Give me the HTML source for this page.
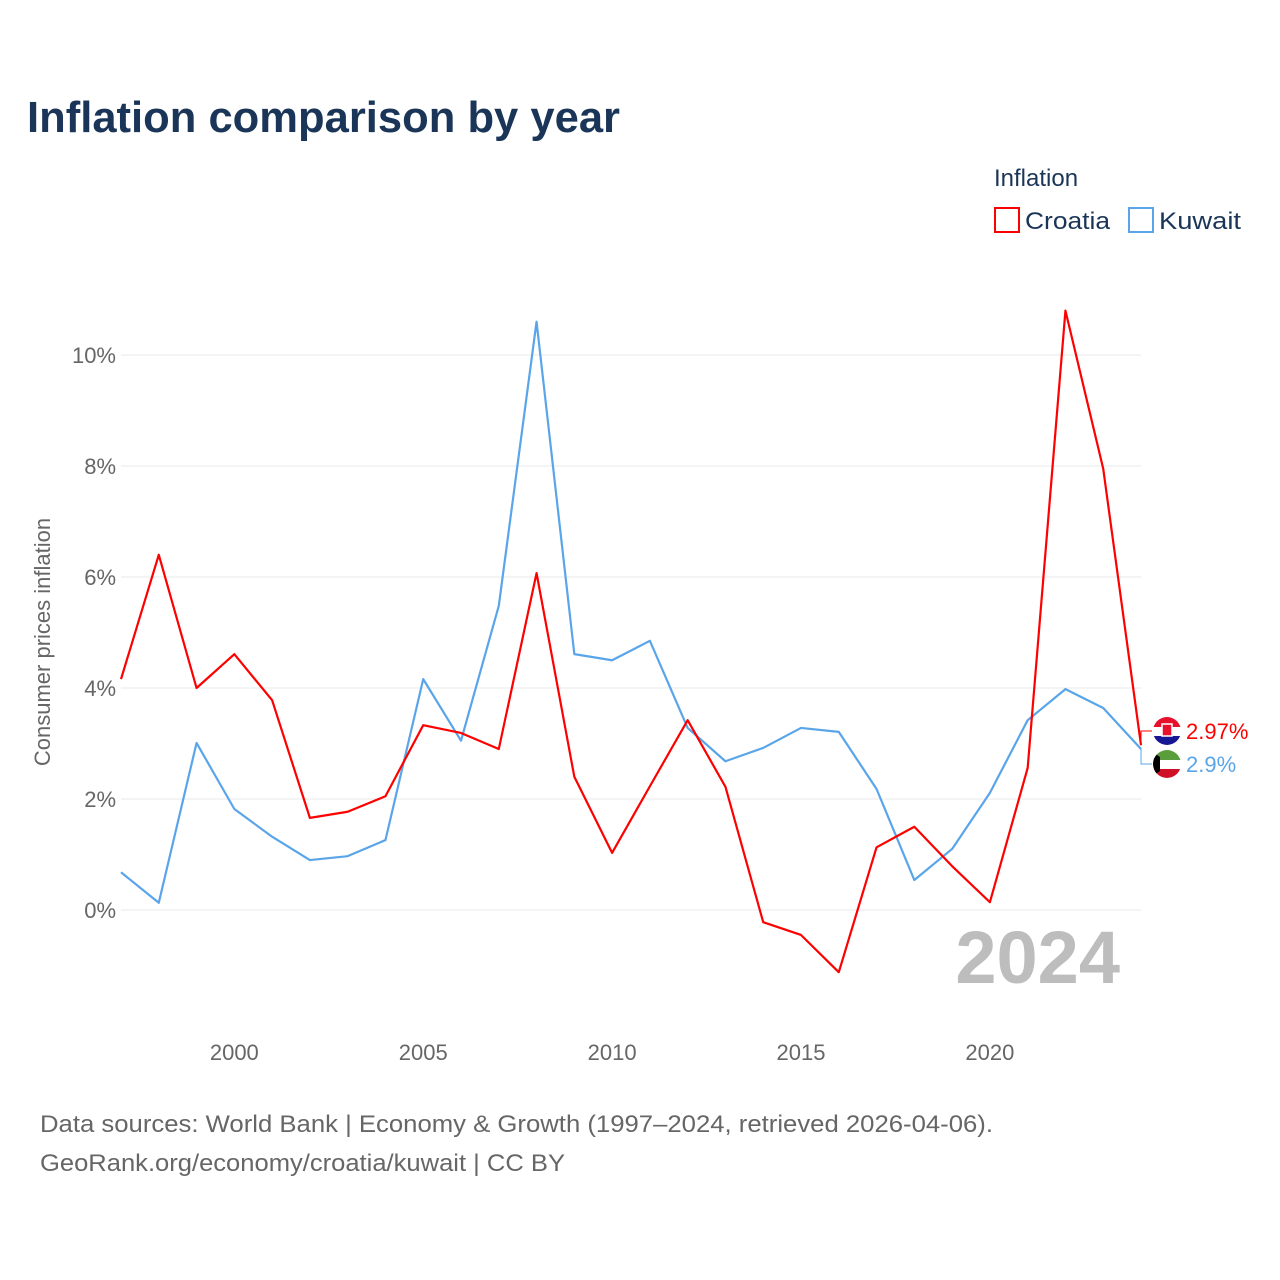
<!DOCTYPE html>
<html><head><meta charset="utf-8">
<style>
body{margin:0;background:#fff;font-family:"Liberation Sans",sans-serif;}
svg{display:block}
</style></head>
<body>
<svg id="chart" width="1280" height="1280" viewBox="0 0 1280 1280">
<text x="27" y="132" font-size="44" font-weight="bold" fill="#1a3557" textLength="593" lengthAdjust="spacingAndGlyphs">Inflation comparison by year</text>
<text x="994" y="186" font-size="24" fill="#1a3557">Inflation</text>
<g><rect x="995" y="208" width="24" height="24" fill="none" stroke="#ff0000" stroke-width="2"/><text x="1025" y="229" font-size="24" fill="#1a3557" textLength="85" lengthAdjust="spacingAndGlyphs">Croatia</text></g>
<g><rect x="1129" y="208" width="24" height="24" fill="none" stroke="#5aa5ea" stroke-width="2"/><text x="1159" y="229" font-size="24" fill="#1a3557" textLength="82" lengthAdjust="spacingAndGlyphs">Kuwait</text></g>
<text transform="translate(50,642) rotate(-90)" text-anchor="middle" font-size="22" fill="#666">Consumer prices inflation</text>
<g id="grid"></g><g id="yticks"></g><g id="xticks"></g>
<text x="1120" y="983" text-anchor="end" font-size="74" font-weight="bold" fill="#bdbdbd">2024</text>
<g id="series"></g>
<text x="40" y="1132" font-size="24" fill="#666" textLength="953" lengthAdjust="spacingAndGlyphs">Data sources: World Bank | Economy &amp; Growth (1997–2024, retrieved 2026-04-06).</text>
<text x="40" y="1171" font-size="24" fill="#666" textLength="525" lengthAdjust="spacingAndGlyphs">GeoRank.org/economy/croatia/kuwait | CC BY</text>
</svg>
<script>
const years=[1997,1998,1999,2000,2001,2002,2003,2004,2005,2006,2007,2008,2009,2010,2011,2012,2013,2014,2015,2016,2017,2018,2019,2020,2021,2022,2023,2024];
const croatia=[4.16,6.40,4.0,4.61,3.78,1.66,1.77,2.05,3.33,3.19,2.90,6.07,2.40,1.03,2.23,3.42,2.22,-0.22,-0.45,-1.12,1.13,1.50,0.79,0.14,2.56,10.8,7.95,2.97];
const kuwait=[0.68,0.13,3.01,1.82,1.32,0.90,0.97,1.26,4.16,3.05,5.48,10.6,4.61,4.5,4.85,3.28,2.68,2.92,3.28,3.21,2.18,0.54,1.10,2.11,3.42,3.98,3.64,2.9];
const yTicks=[0,2,4,6,8,10];
const xTicks=[2000,2005,2010,2015,2020];
const X=y=>121+(y-1997)*(1141-121)/27;
const Y=v=>910-v*55.5;
const NS="http://www.w3.org/2000/svg";
function mk(tag,attrs,parent,txt){const e=document.createElementNS(NS,tag);for(const k in attrs)e.setAttribute(k,attrs[k]);if(txt!=null)e.textContent=txt;parent.appendChild(e);return e;}
const grid=document.getElementById('grid'),yt=document.getElementById('yticks'),xt=document.getElementById('xticks'),ser=document.getElementById('series');
yTicks.forEach(t=>{
  const l=mk('line',{x1:121,x2:1141,y1:Y(t),y2:Y(t),stroke:'#e8e8e8','stroke-width':1},grid);
  
  
  const tx=mk('text',{x:116,y:Y(t)+8,'text-anchor':'end','font-size':22,fill:'#666'},yt,t+'%');
  
  
});
xTicks.forEach(t=>{
  const tx=mk('text',{x:X(t),y:1060,'text-anchor':'middle','font-size':22,fill:'#666'},xt,String(t));
  
  
});
function line(vals,color,name){
  const p=mk('polyline',{points:vals.map((v,i)=>X(years[i])+','+Y(v)).join(' '),fill:'none',stroke:color,'stroke-width':2.2,'stroke-linejoin':'round'},ser);
  
  
}
line(kuwait,'#5aa5ea','kuwait-line');
line(croatia,'#ff0000','croatia-line');
const lc=croatia[croatia.length-1],lk=kuwait[kuwait.length-1];
const xe=X(2024);
mk('polyline',{points:`${xe},${Y(lc)} ${xe},731 1152,731`,fill:'none',stroke:'#ff0000','stroke-width':1},ser);
mk('polyline',{points:`${xe},${Y(lk)} ${xe},764 1152,764`,fill:'none',stroke:'#5aa5ea','stroke-width':1},ser);
const fc=mk('g',{},ser);


const cp1=mk('clipPath',{id:'c1'},fc);mk('circle',{cx:1167,cy:731,r:14},cp1);
const g1=mk('g',{'clip-path':'url(#c1)'},fc);
mk('rect',{x:1150,y:717,width:34,height:10,fill:'#e8112d'},g1);
mk('rect',{x:1150,y:727,width:34,height:9,fill:'#fff'},g1);
mk('rect',{x:1150,y:736,width:34,height:10,fill:'#171796'},g1);
mk('rect',{x:1162,y:724,width:10,height:12,fill:'#e8112d',stroke:'#fff','stroke-width':1.5},g1);
const fk=mk('g',{},ser);


const cp=mk('clipPath',{id:'c2'},fk);mk('circle',{cx:1167,cy:764,r:14},cp);
const g2=mk('g',{'clip-path':'url(#c2)'},fk);
mk('rect',{x:1150,y:750,width:34,height:10,fill:'#5a9e3c'},g2);
mk('rect',{x:1150,y:760,width:34,height:9,fill:'#fff'},g2);
mk('rect',{x:1150,y:769,width:34,height:10,fill:'#ce1126'},g2);
mk('polygon',{points:'1150,750 1160,757 1160,771 1150,778',fill:'#000'},g2);
const t1=mk('text',{x:1186,y:739,'font-size':22,fill:'#ff0000'},ser,lc+'%');


const t2=mk('text',{x:1186,y:772,'font-size':22,fill:'#5aa5ea'},ser,lk+'%');


</script>
</body></html>
